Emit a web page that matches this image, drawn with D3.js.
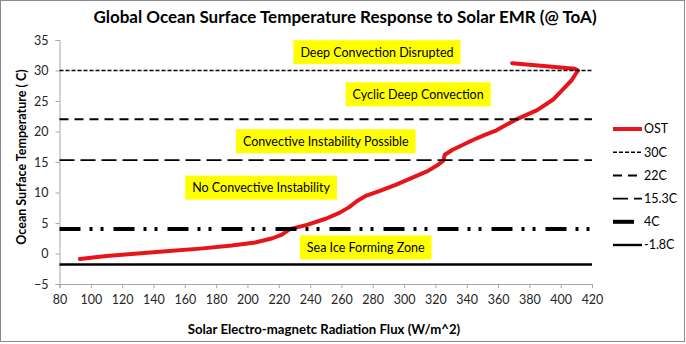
<!DOCTYPE html>
<html>
<head>
<meta charset="utf-8">
<script src="https://cdn.jsdelivr.net/npm/d3@7"></script>
<style>
  body { margin: 0; background: #fff; }
  svg text { font-family: Lato, "Open Sans", sans-serif; }
</style>
</head>
<body>
<div id="chart"></div>
<script>
// chart size and plot margins
var width = 686,
    height = 344,
    margin = { top: 40, right: 94, bottom: 60, left: 59.5 };

// ocean surface temperature vs solar flux
var flux = [93, 110, 130, 150, 170, 190, 205, 216, 222, 227, 238, 250, 259, 265, 270, 276, 285, 295, 305, 315, 322, 325, 326, 331, 344, 352, 359, 371, 385, 395, 401, 407, 411, 409, 391, 369];
var ost  = [-0.9, -0.4, 0.0, 0.4, 0.8, 1.3, 1.8, 2.5, 3.1, 4.0, 4.7, 5.7, 6.7, 7.6, 8.6, 9.5, 10.3, 11.3, 12.4, 13.5, 14.6, 15.2, 16.2, 17.0, 18.6, 19.5, 20.2, 21.9, 23.5, 25.2, 26.8, 28.4, 30.0, 30.3, 30.7, 31.2];

// reference temperatures
var refNames  = ["30C", "22C", "15.3C", "4C", "-1.8C"];
var refValues = [30, 22, 15.3, 4, -1.8];
var refDash   = ["4,2", "9,6", "15,6", "21,9,3,8,3,10", null];
var refWidth  = [1.6, 2, 1.8, 4, 2.4];

// zone labels (anchored at flux, temperature)
var zoneLabels = ["Deep Convection Disrupted", "Cyclic Deep Convection", "Convective Instability Possible", "No Convective Instability", "Sea Ice Forming Zone"];
var zoneX = [282.7, 309, 250, 208.7, 275.5];
var zoneY = [33.0, 26.1, 18.4, 10.8, 1.0];

var xTicks = d3.range(80, 421, 20);
var yTicks = d3.range(-5, 36, 5);

var svg = d3.select("#chart").append("svg")
    .attr("width", width)
    .attr("height", height);

svg.append("rect")
    .attr("x", 0.5).attr("y", 0.5)
    .attr("width", width - 2).attr("height", height - 3)
    .attr("fill", "#fff")
    .attr("stroke", "#8a8a8a");

var x = d3.scaleLinear()
    .domain([80, 420])
    .range([margin.left, width - margin.right]);

var y = d3.scaleLinear()
    .domain([-5, 35])
    .range([height - margin.bottom, margin.top]);

// axes
var xAxis = svg.append("g")
    .attr("transform", "translate(0," + y(-5) + ")")
    .call(d3.axisBottom(x).tickValues(xTicks).tickSize(4).tickPadding(7));

var yAxis = svg.append("g")
    .attr("transform", "translate(" + x(80) + ",0)")
    .call(d3.axisLeft(y).tickValues(yTicks).tickSize(4).tickPadding(7));

[xAxis, yAxis].forEach(function(a) {
    a.select(".domain").attr("stroke", "#a6a6a6");
    a.selectAll(".tick line").attr("stroke", "#a6a6a6");
    a.selectAll(".tick text")
        .attr("fill", "#262626")
        .style("font-size", "12.5px");
});

// OST curve
var line = d3.line()
    .x(function(d) { return x(d[0]); })
    .y(function(d) { return y(d[1]); });

svg.append("path")
    .datum(flux.map(function(f, i) { return [f, ost[i]]; }))
    .attr("fill", "none")
    .attr("stroke", "#e8141c")
    .attr("stroke-width", 4)
    .attr("stroke-linejoin", "round")
    .attr("stroke-linecap", "round")
    .attr("d", line);

// reference lines
svg.append("g")
    .selectAll("line")
    .data(refValues)
    .enter().append("line")
    .attr("x1", x(80))
    .attr("x2", x(420))
    .attr("y1", function(d) { return y(d); })
    .attr("y2", function(d) { return y(d); })
    .attr("stroke", "#000")
    .attr("stroke-width", function(d, i) { return refWidth[i]; })
    .attr("stroke-dasharray", function(d, i) { return refDash[i]; });

// zone labels in yellow boxes
var zones = svg.append("g")
    .selectAll("g")
    .data(zoneLabels)
    .enter().append("g")
    .attr("transform", function(d, i) { return "translate(" + x(zoneX[i]) + "," + y(zoneY[i]) + ")"; });

zones.append("rect").attr("fill", "#ffff00");

zones.append("text")
    .attr("text-anchor", "middle")
    .attr("dy", "0.35em")
    .style("font-size", "12.5px")
    .attr("fill", "#000")
    .text(function(d) { return d; });

zones.each(function() {
    var g = d3.select(this);
    var w = g.select("text").node().getComputedTextLength();
    g.select("rect")
        .attr("x", -w / 2 - 7)
        .attr("y", -12)
        .attr("width", w + 14)
        .attr("height", 24);
});

// legend
var legendNames = ["OST"].concat(refNames);
var legend = svg.append("g")
    .attr("transform", "translate(613,129)");

var item = legend.selectAll("g")
    .data(legendNames)
    .enter().append("g")
    .attr("transform", function(d, i) { return "translate(0," + (i * 23.2) + ")"; });

item.append("line")
    .attr("x1", 0).attr("x2", 29)
    .attr("stroke", function(d, i) { return i == 0 ? "#e8141c" : "#000"; })
    .attr("stroke-width", function(d, i) { return i == 0 ? 4 : refWidth[i - 1]; })
    .attr("stroke-dasharray", function(d, i) { return i == 0 ? null : refDash[i - 1]; });

item.append("text")
    .attr("x", 31)
    .attr("dy", "0.35em")
    .style("font-size", "12.5px")
    .attr("fill", "#000")
    .text(function(d) { return d; });

// titles
svg.append("text")
    .attr("x", 345)
    .attr("y", 23)
    .attr("text-anchor", "middle")
    .style("font-size", "17px")
    .style("font-weight", "bold")
    .text("Global Ocean Surface Temperature Response to Solar EMR (@ ToA)");

svg.append("text")
    .attr("x", 324)
    .attr("y", 334)
    .attr("text-anchor", "middle")
    .style("font-size", "13.2px")
    .style("font-weight", "bold")
    .text("Solar Electro-magnetc Radiation Flux (W/m^2)");

svg.append("text")
    .attr("transform", "translate(22,157) rotate(-90)")
    .attr("text-anchor", "middle")
    .attr("dy", "0.35em")
    .style("font-size", "12.5px")
    .style("font-weight", "bold")
    .text("Ocean Surface Temperature ( C)");
</script>
</body>
</html>
